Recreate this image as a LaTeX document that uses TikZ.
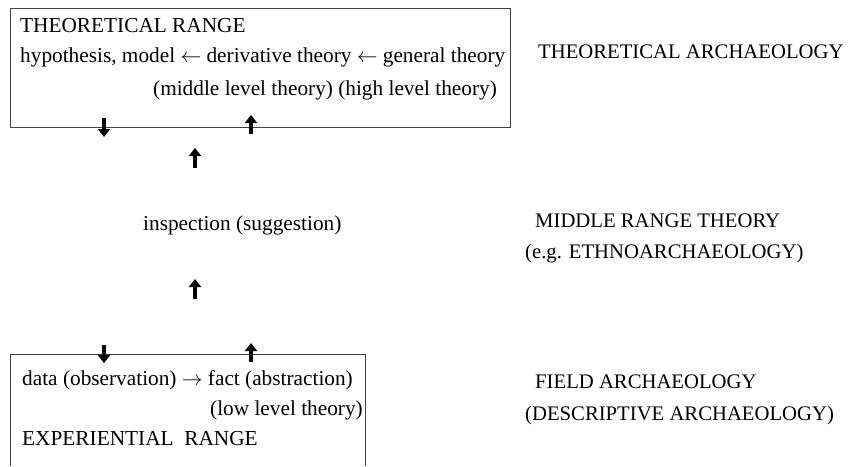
\documentclass[tikz,border=0pt]{standalone}
\usepackage{fontspec}
\setmainfont{Liberation Serif}
\usetikzlibrary{arrows.meta}
\begin{document}
\begin{tikzpicture}[x=1pt,y=-1pt,
  txt/.style={anchor=base west,inner sep=0pt,font=\fontsize{21.3}{24}\selectfont},
  txtr/.style={anchor=base east,inner sep=0pt,font=\fontsize{21.3}{24}\selectfont},
  lbl/.style={anchor=base west,inner sep=0pt,font=\fontsize{20.7}{24}\selectfont},
  frame/.style={draw=black!75,line width=0.9pt},
  blk/.style={line width=4.5pt,-{Triangle[width=12pt,length=8pt]}}]
\useasboundingbox (0,0) rectangle (850,466);
% top box
\node[frame,anchor=north west,minimum width=500pt,minimum height=119pt,inner sep=0pt] (top) at (10,8) {};
\node[txt] (t1) at (20,32) {THEORETICAL RANGE};
\node[txt] (t2) at (20,62) {hypothesis, model $\leftarrow$ derivative theory $\leftarrow$ general theory};
\node[txtr] (t3) at (497,95) {(middle level theory) (high level theory)};
% right labels
\node[lbl] (r1) at (538,58) {THEORETICAL ARCHAEOLOGY};
\node[lbl] (r2) at (535,227) {MIDDLE RANGE THEORY};
\node[lbl] (r3) at (525,258) {(e.g. ETHNOARCHAEOLOGY)};
\node[lbl] (r4) at (535,388) {FIELD ARCHAEOLOGY};
\node[lbl] (r5) at (525,420) {(DESCRIPTIVE ARCHAEOLOGY)};
% middle
\node[txt] (mid) at (143,230) {inspection (suggestion)};
% bottom box
\coordinate (bl) at (10,466);
\coordinate (btl) at (10,354);
\coordinate (btr) at (365,354);
\coordinate (br) at (365,466);
\draw[frame] (bl) -- (btl) -- (btr) -- (br);
\node[txt] (b1) at (22,385) {data (observation) $\rightarrow$ fact (abstraction)};
\node[txtr] (b2) at (363,415) {(low level theory)};
\node[txt] (b3) at (22,445) {EXPERIENTIAL\ \ RANGE};
% arrows
\coordinate (a1s) at (104,118); \coordinate (a1e) at (104,137);
\coordinate (a2s) at (251,134); \coordinate (a2e) at (251,115);
\coordinate (a3s) at (195,168); \coordinate (a3e) at (195,148);
\coordinate (a4s) at (195,299); \coordinate (a4e) at (195,279);
\coordinate (a5s) at (104,345); \coordinate (a5e) at (104,363);
\coordinate (a6s) at (251,362); \coordinate (a6e) at (251,343);
\draw[blk] (a1s) -- (a1e);
\draw[blk] (a2s) -- (a2e);
\draw[blk] (a3s) -- (a3e);
\draw[blk] (a4s) -- (a4e);
\draw[blk] (a5s) -- (a5e);
\draw[blk] (a6s) -- (a6e);
\end{tikzpicture}
\end{document}
